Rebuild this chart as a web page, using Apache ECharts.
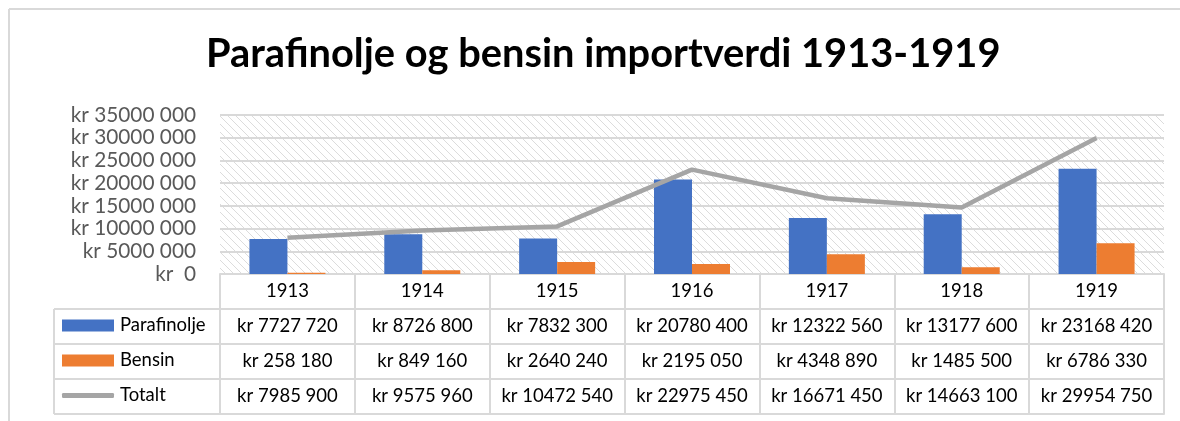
<!DOCTYPE html>
<html>
<head>
<meta charset="utf-8">
<script src="https://cdn.jsdelivr.net/npm/echarts@6/dist/echarts.min.js"></script>
<style>
html, body {margin: 0; padding: 0; background: #fff;}
#chart {width: 1180px; height: 421px;}
</style>
</head>
<body>
<div id="chart"></div>
<script>
var years = ['1913', '1914', '1915', '1916', '1917', '1918', '1919'];
var parafin = [7727720, 8726800, 7832300, 20780400, 12322560, 13177600, 23168420];
var bensin = [258180, 849160, 2640240, 2195050, 4348890, 1485500, 6786330];
var totalt = [7985900, 9575960, 10472540, 22975450, 16671450, 14663100, 29954750];

var FONT = 'Lato';
var GRID_C = '#d9d9d9';

// "kr 35000 000" style
function kr(v) {
    if (v == 0) return 'kr  0';
    return 'kr ' + Math.floor(v / 1000) + ' ' + String(v % 1000).padStart(3, '0');
};

// hatch pattern for the plot area
function hatch() {
    let c = document.createElement('canvas');
    c.width = 8; c.height = 8;
    let g = c.getContext('2d');
    g.strokeStyle = '#dcdcdc';
    g.lineWidth = 1;
    g.beginPath();
    g.moveTo(-1, -1); g.lineTo(9, 9);
    g.moveTo(-1, 7); g.lineTo(1, 9);
    g.moveTo(7, -1); g.lineTo(9, 1);
    g.stroke();
    return c;
};

function tableAxis(values, off) {
    return {
        type: 'category', gridIndex: 0, position: 'bottom', offset: off,
        data: years,
        axisLine: {show: true, lineStyle: {color: GRID_C, width: 2}},
        axisTick: {show: false},
        axisLabel: {
            show: values != null, interval: 0, hideOverlap: false,
            margin: 8, fontFamily: FONT, fontSize: 18.5, color: '#000',
            formatter: function (v, i) { return values ? kr(values[i]) : ''; }
        },
        splitLine: {show: false}
    };
};

function legendRow(name, top, icon, h) {
    return {
        orient: 'vertical', left: 62, top: top, padding: 0,
        itemWidth: 52, itemHeight: h, itemGap: 0,
        textStyle: {fontFamily: FONT, fontSize: 18.5, color: '#000', padding: [0, 0, 0, 1]},
        data: [{name: name, icon: icon}]
    };
};

var chart = echarts.init(document.getElementById('chart'));
var opt = {
    animation: false,
    backgroundColor: '#fff',
    title: {
        text: 'Parafinolje og bensin importverdi 1913-1919',
        left: 201, top: 29,
        textStyle: {fontFamily: FONT, fontSize: 39.8, fontWeight: 'bold', color: '#000'}
    },
    grid: {
        left: 220, right: 16, top: 115, bottom: 147,
        show: true, borderWidth: 0,
        backgroundColor: {image: hatch(), repeat: 'repeat'}
    },
    legend: [
        legendRow('Parafinolje', 316, 'rect', 12),
        legendRow('Bensin', 351, 'rect', 12),
        legendRow('Totalt', 386, 'roundRect', 5)
    ],
    xAxis: [
        {
            type: 'category', position: 'bottom', data: years,
            axisLine: {show: true, lineStyle: {color: GRID_C, width: 2}},
            axisTick: {show: true, length: 140, lineStyle: {color: GRID_C, width: 2}},
            axisLabel: {interval: 0, margin: 8, fontFamily: FONT, fontSize: 18.5, color: '#000'}
        },
        tableAxis(parafin, 35),
        tableAxis(bensin, 70),
        tableAxis(totalt, 105),
        tableAxis(null, 140)
    ],
    yAxis: {
        type: 'value', min: 0, max: 35000000, interval: 5000000,
        axisLine: {show: false}, axisTick: {show: false},
        axisLabel: {margin: 24, fontFamily: FONT, fontSize: 20.8, color: '#595959', formatter: kr},
        splitLine: {lineStyle: {color: GRID_C, width: 2}}
    },
    series: [
        {name: 'Parafinolje', type: 'bar', data: parafin, barWidth: 38, barGap: '0%',
         itemStyle: {color: '#4472c4'}},
        {name: 'Bensin', type: 'bar', data: bensin, barWidth: 38,
         itemStyle: {color: '#ed7d31'}},
        {name: 'Totalt', type: 'line', data: totalt, symbol: 'none',
         lineStyle: {color: '#a5a5a5', width: 4.5}, itemStyle: {color: '#a5a5a5'}, z: 5}
    ],
    graphic: [
        {type: 'line', shape: {x1: 9, y1: 9, x2: 1180, y2: 9}, style: {stroke: GRID_C, lineWidth: 2}},
        {type: 'line', shape: {x1: 9, y1: 9, x2: 9, y2: 421}, style: {stroke: GRID_C, lineWidth: 2}},
        {type: 'line', shape: {x1: 54, y1: 309, x2: 54, y2: 414}, style: {stroke: GRID_C, lineWidth: 2}},
        {type: 'line', shape: {x1: 54, y1: 309, x2: 220, y2: 309}, style: {stroke: GRID_C, lineWidth: 2}},
        {type: 'line', shape: {x1: 54, y1: 344, x2: 220, y2: 344}, style: {stroke: GRID_C, lineWidth: 2}},
        {type: 'line', shape: {x1: 54, y1: 379, x2: 220, y2: 379}, style: {stroke: GRID_C, lineWidth: 2}},
        {type: 'line', shape: {x1: 54, y1: 414, x2: 220, y2: 414}, style: {stroke: GRID_C, lineWidth: 2}}
    ]
};
chart.setOption(opt);
</script>
</body>
</html>
